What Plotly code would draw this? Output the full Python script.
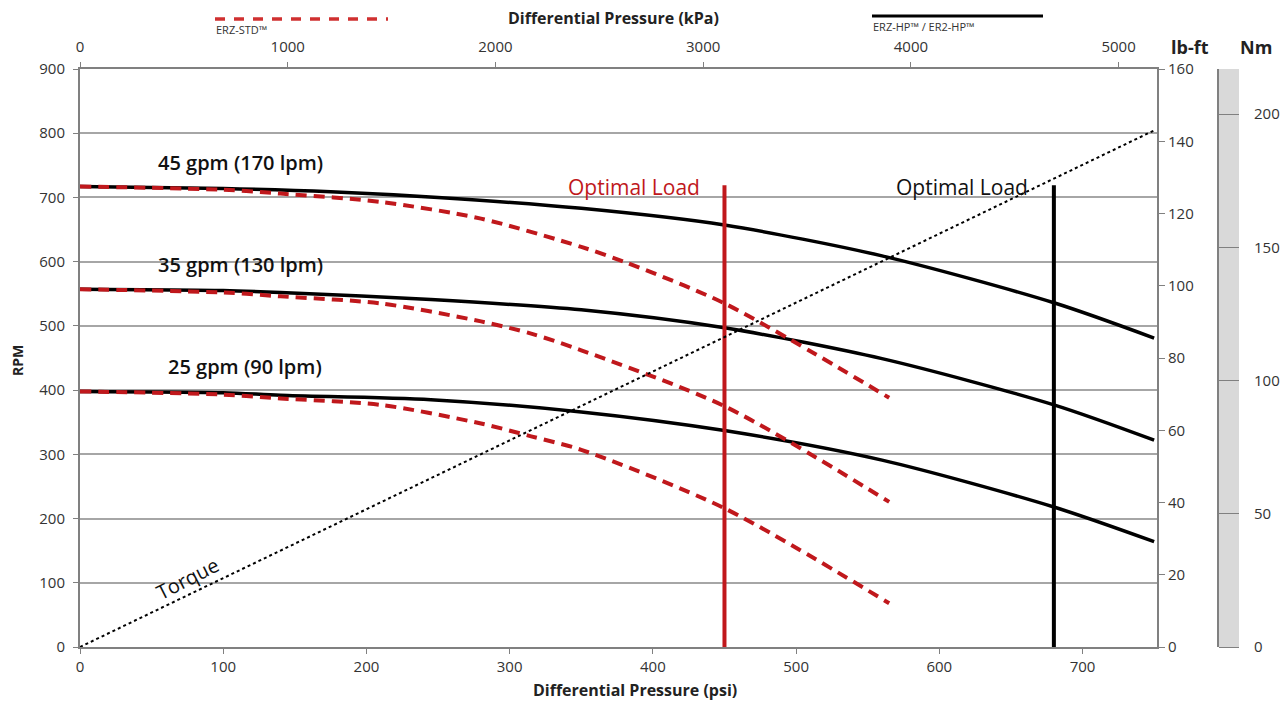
import plotly.graph_objects as go

# ---------------- data ----------------
# ERZ-HP (solid black) curves: psi -> RPM
hp_psi_45 = [0, 100, 175, 250, 350, 450, 560, 680, 750]
hp_45 = [717, 714, 709, 700, 683, 657, 609, 536, 481]
hp_psi = [0, 100, 140, 245, 350, 450, 560, 680, 750]
hp_35 = [557, 555, 552, 541, 525, 497, 449, 377, 322]
hp_25 = [398, 396, 392, 385, 366, 337, 291, 218, 164]

# ERZ-STD (red dashed) curves
std_psi_45 = [0, 100, 140, 210, 280, 350, 382, 450, 565]
std_45 = [717, 712, 706, 693, 667, 623, 598, 535, 388]
std_psi = [0, 100, 140, 210, 280, 315, 350, 450, 565]
std_35 = [557, 552, 546, 535, 507, 488, 462, 375, 226]
std_25 = [398, 393, 387, 377, 348, 328, 307, 216, 68]

# Torque line (lb-ft)
torque_psi = [0, 750]
torque_lbft = [0, 143]

# Optimal load markers
opt_std_psi = 450
opt_hp_psi = 680
opt_top_rpm = 719

flow_labels = ["45 gpm (170 lpm)", "35 gpm (130 lpm)", "25 gpm (90 lpm)"]
flow_label_psi = [112, 112, 115]
flow_label_rpm = [755, 596, 437]

psi_ticks = [0, 100, 200, 300, 400, 500, 600, 700]
kpa_ticks = [0, 1000, 2000, 3000, 4000, 5000]
rpm_ticks = list(range(0, 901, 100))
lbft_ticks = list(range(0, 161, 20))
nm_ticks = [0, 50, 100, 150, 200]

PSI_MAX = 752
KPA_PER_PSI = 6.89476
NM_PER_LBFT = 1.35582

RED = "#c0181c"
BLACK = "#000000"
GRID = "#a6a6a6"
AXC = "#808080"
FONT = "Open Sans"

fig = go.Figure()

for xs, y in ((hp_psi_45, hp_45), (hp_psi, hp_35), (hp_psi, hp_25)):
    fig.add_trace(go.Scatter(x=xs, y=y, mode="lines",
                             line=dict(color=BLACK, width=3.5, shape="spline", smoothing=0.8),
                             showlegend=False, hoverinfo="skip"))
for xs, y in ((std_psi_45, std_45), (std_psi, std_35), (std_psi, std_25)):
    fig.add_trace(go.Scatter(x=xs, y=y, mode="lines",
                             line=dict(color=RED, width=4, dash="11px,7px", shape="spline", smoothing=0.8),
                             showlegend=False, hoverinfo="skip"))

# optimal load vertical lines
fig.add_trace(go.Scatter(x=[opt_std_psi, opt_std_psi], y=[0, opt_top_rpm], mode="lines",
                         line=dict(color=RED, width=4), showlegend=False, hoverinfo="skip"))
fig.add_trace(go.Scatter(x=[opt_hp_psi, opt_hp_psi], y=[0, opt_top_rpm], mode="lines",
                         line=dict(color=BLACK, width=4), showlegend=False, hoverinfo="skip"))

# torque on lb-ft axis
fig.add_trace(go.Scatter(x=torque_psi, y=torque_lbft, mode="lines", yaxis="y2",
                         line=dict(color=BLACK, width=2, dash="dot"), showlegend=False, hoverinfo="skip"))

# invisible traces to activate secondary axes
fig.add_trace(go.Scatter(x=[0], y=[0], xaxis="x2", yaxis="y", mode="markers", marker=dict(opacity=0),
                         showlegend=False, hoverinfo="skip"))
fig.add_trace(go.Scatter(x=[0], y=[0], xaxis="x", yaxis="y3", mode="markers", marker=dict(opacity=0),
                         showlegend=False, hoverinfo="skip"))

L, R, T, B = 80, 47, 69, 57
W, H = 1287, 704
PW = W - L - R
PH = H - T - B
dom_end = 1077 / PW


def px(xp):
    return (xp - L) / PW


def py(yp):
    return (H - B - yp) / PH


tickfont = dict(family=FONT, size=15, color="#333333")

fig.update_layout(
    width=W, height=H,
    margin=dict(l=L, r=R, t=T, b=B, autoexpand=False),
    paper_bgcolor="white", plot_bgcolor="white",
    font=dict(family=FONT, color="#222222"),
    xaxis=dict(domain=[0, dom_end], range=[0, PSI_MAX], tickvals=psi_ticks, showgrid=False, zeroline=False,
               showline=True, linecolor=AXC, linewidth=2, ticks="outside", ticklen=5, tickcolor=AXC,
               tickfont=tickfont, anchor="y", automargin=False),
    xaxis2=dict(overlaying="x", side="top", anchor="y", range=[0, PSI_MAX * KPA_PER_PSI], tickvals=kpa_ticks,
                showgrid=False, zeroline=False, showline=True, linecolor=AXC, linewidth=2, ticks="outside",
                ticklen=5, tickcolor=AXC, tickfont=tickfont, ticklabelstandoff=4, automargin=False),
    yaxis=dict(range=[0, 900], tickvals=rpm_ticks, showgrid=True, gridcolor=GRID, gridwidth=1.5, zeroline=False,
               showline=True, linecolor=AXC, linewidth=2, ticks="outside", ticklen=5, tickcolor=AXC,
               tickfont=tickfont, ticklabelstandoff=5, anchor="x", automargin=False),
    yaxis2=dict(overlaying="y", side="right", anchor="x", range=[0, 160], tickvals=lbft_ticks, showgrid=False,
                zeroline=False, showline=True, linecolor=AXC, linewidth=2, ticks="outside", ticklen=6,
                tickcolor=AXC, tickfont=tickfont, automargin=False),
    yaxis3=dict(overlaying="y", side="right", anchor="free", position=px(1218),
                range=[0, 160 * NM_PER_LBFT], tickvals=nm_ticks, showgrid=False, zeroline=False,
                showline=True, linecolor=AXC, linewidth=2, ticks="outside", ticklen=20, tickcolor=AXC,
                ticklabelstandoff=12, tickfont=tickfont, automargin=False),
)

# gray Nm bar
fig.add_shape(type="rect", xref="paper", yref="paper", x0=px(1218), x1=px(1239), y0=0, y1=1,
              fillcolor="#d9d9d9", line=dict(width=0), layer="below")

# legend samples
fig.add_shape(type="line", xref="paper", yref="paper", x0=px(215), x1=px(388), y0=py(19), y1=py(19),
              line=dict(color="#d03030", width=3.5, dash="10px,9px"))
fig.add_shape(type="line", xref="paper", yref="paper", x0=px(872), x1=px(1043), y0=py(16), y1=py(16),
              line=dict(color=BLACK, width=3))


def pann(text, x, y, size, color="#222222", xanchor="center", weight="normal", angle=0):
    return dict(text=text, x=px(x), y=py(y), xref="paper", yref="paper", xanchor=xanchor, yanchor="middle",
                showarrow=False, textangle=angle, font=dict(size=size, color=color, family=FONT, weight=weight))


ann = [
    pann("ERZ-STD™", 214, 30, 11, "#333333", xanchor="left"),
    pann("ERZ-HP™ / ER2-HP™", 871, 26, 11, "#333333", xanchor="left"),
    pann("Differential Pressure (kPa)", 613, 18, 16, weight="bold"),
    pann("Differential Pressure (psi)", 635, 690, 16, weight="bold"),
    pann("RPM", 17, 361, 14, weight="bold", angle=-90),
    pann("lb-ft", 1190, 47, 18, weight="bold"),
    pann("Nm", 1256, 47, 18, weight="bold"),
]

for t, xx, yy in zip(flow_labels, flow_label_psi, flow_label_rpm):
    ann.append(dict(text=t, x=xx, y=yy, xref="x", yref="y", showarrow=False, yanchor="middle",
                    font=dict(size=20, color="#111111", family=FONT, weight=600)))

ann.append(dict(text="Optimal Load", x=387, y=716, xref="x", yref="y", showarrow=False, yanchor="middle",
                font=dict(size=21, color=RED, family=FONT)))
ann.append(dict(text="Optimal Load", x=616, y=716, xref="x", yref="y", showarrow=False, yanchor="middle",
                font=dict(size=21, color="#111111", family=FONT)))
ann.append(dict(text="Torque", x=75, y=107, xref="x", yref="y", showarrow=False, textangle=-27,
                yanchor="middle", font=dict(size=20, color="#111111", family=FONT)))

fig.update_layout(annotations=ann)

fig.write_html("out.html")
